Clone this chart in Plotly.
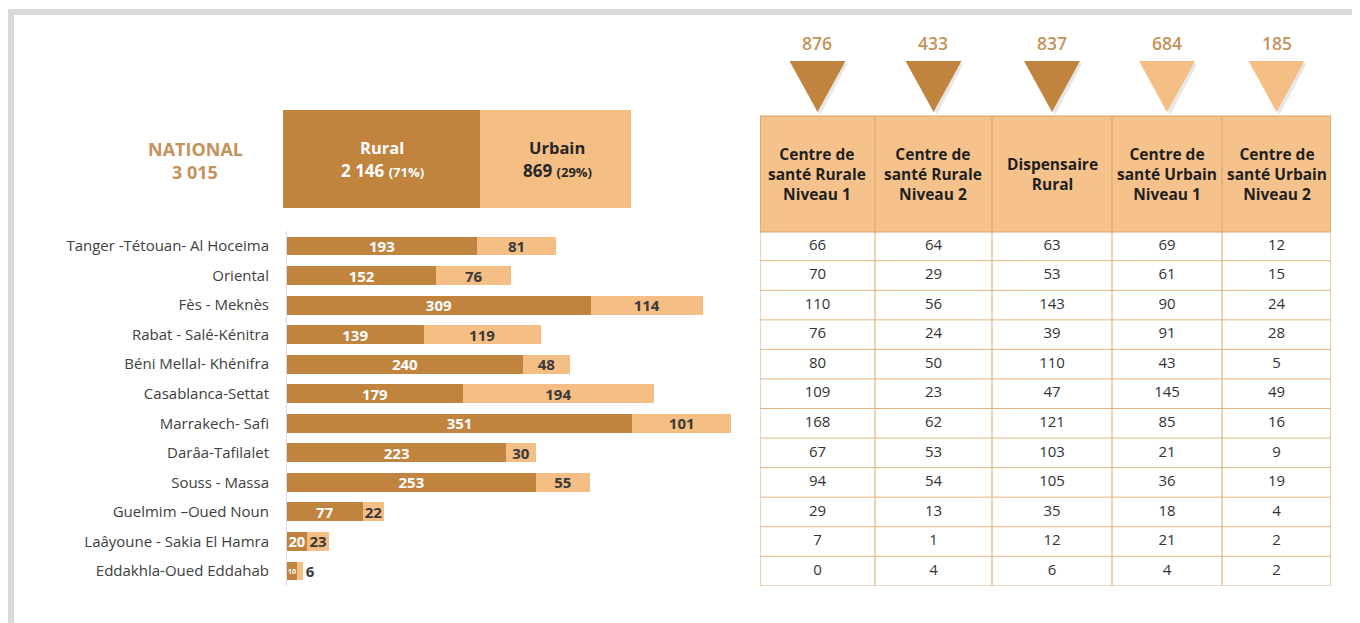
import plotly.graph_objects as go

# ---------------- data ----------------
regions = ["Tanger -Tétouan- Al Hoceima", "Oriental", "Fès - Meknès", "Rabat - Salé-Kénitra",
           "Béni Mellal- Khénifra", "Casablanca-Settat", "Marrakech- Safi", "Darâa-Tafilalet",
           "Souss - Massa", "Guelmim –Oued Noun", "Laâyoune - Sakia El Hamra", "Eddakhla-Oued Eddahab"]
rural = [193, 152, 309, 139, 240, 179, 351, 223, 253, 77, 20, 10]
urbain = [81, 76, 114, 119, 48, 194, 101, 30, 55, 22, 23, 6]

col_headers = ["Centre de<br>santé Rurale<br>Niveau 1", "Centre de<br>santé Rurale<br>Niveau 2",
               "Dispensaire<br>Rural", "Centre de<br>santé Urbain<br>Niveau 1",
               "Centre de<br>santé Urbain<br>Niveau 2"]
csr1 = [66, 70, 110, 76, 80, 109, 168, 67, 94, 29, 7, 0]
csr2 = [64, 29, 56, 24, 50, 23, 62, 53, 54, 13, 1, 4]
disp = [63, 53, 143, 39, 110, 47, 121, 103, 105, 35, 12, 6]
csu1 = [69, 61, 90, 91, 43, 145, 85, 21, 36, 18, 21, 4]
csu2 = [12, 15, 24, 28, 5, 49, 16, 9, 19, 4, 2, 2]
columns = [csr1, csr2, disp, csu1, csu2]
col_is_rural = [True, True, True, False, False]

# ---------------- style ----------------
OFF = 8                      # page body margin
W, H = 1360 - OFF, 623 - OFF
RURAL = "#c0843f"
URBAN = "#f4be85"
HEAD = "#f6c28b"
TAN_TXT = "#c4925a"
GRID = "#e2b482"
FONT = "'Open Sans', Lato, sans-serif"
col_widths = [115, 117, 120, 110, 109]
SCALE = 0.983                # px per unit on the bar axis
LABEL_SIZE = 15


def X(px):
    return (px - OFF) / W


def Y(py):
    return 1 - (py - OFF) / H


def fmt(n):
    return f"{n:,}".replace(",", " ")


# label size shrinks only when the bar is too narrow for it
rural_sizes = [min(LABEL_SIZE, v * SCALE * 0.75) for v in rural]

fig = go.Figure()

fig.add_trace(go.Bar(
    y=regions, x=rural, orientation="h", name="Rural", marker=dict(color=RURAL, line_width=0),
    text=rural, textposition="inside", insidetextanchor="middle", textangle=0,
    constraintext="none",
    textfont=dict(family=FONT, size=rural_sizes, color="white", weight="bold"),
    xaxis="x", yaxis="y", hoverinfo="skip"))
fig.add_trace(go.Bar(
    y=regions, x=urbain, orientation="h", name="Urbain", marker=dict(color=URBAN, line_width=0),
    text=urbain, textposition="auto", insidetextanchor="middle", textangle=0,
    constraintext="none",
    insidetextfont=dict(family=FONT, size=LABEL_SIZE, color="#3a3a3a", weight="bold"),
    outsidetextfont=dict(family=FONT, size=LABEL_SIZE, color="#3a3a3a", weight="bold"),
    xaxis="x", yaxis="y", hoverinfo="skip", cliponaxis=False))

# table body on x2 / y
edges = [0]
for w in col_widths:
    edges.append(edges[-1] + w)
centers = [(edges[i] + edges[i + 1]) / 2 for i in range(5)]

for i, col in enumerate(columns):
    fig.add_trace(go.Scatter(
        x=[centers[i]] * len(regions), y=regions, mode="text", text=[str(v) for v in col],
        textfont=dict(family=FONT, size=15, color="#333333"),
        xaxis="x2", yaxis="y", hoverinfo="skip", showlegend=False))

shapes = []
# frame
shapes.append(dict(type="rect", xref="paper", yref="paper", x0=X(11), x1=X(1380), y0=Y(12), y1=Y(650),
                   line=dict(color="#d9d9d9", width=6), fillcolor="rgba(0,0,0,0)", layer="below"))

# national boxes
shapes.append(dict(type="rect", xref="paper", yref="paper", x0=X(283), x1=X(480), y0=Y(208), y1=Y(110),
                   fillcolor=RURAL, line_width=0))
shapes.append(dict(type="rect", xref="paper", yref="paper", x0=X(480), x1=X(631), y0=Y(208), y1=Y(110),
                   fillcolor=URBAN, line_width=0))

# table header
shapes.append(dict(type="rect", xref="x2", yref="paper", x0=edges[0], x1=edges[-1], y0=Y(232), y1=Y(116),
                   fillcolor=HEAD, line=dict(color="#d7a46c", width=1)))
n = len(regions)
for k in range(n + 1):
    shapes.append(dict(type="line", xref="x2", yref="y", x0=edges[0], x1=edges[-1], y0=k - 0.5, y1=k - 0.5,
                       line=dict(color=GRID, width=1)))
for e in edges:
    shapes.append(dict(type="line", xref="x2", yref="paper", x0=e, x1=e, y0=Y(116), y1=Y(232),
                       line=dict(color="#d7a46c", width=1)))
    shapes.append(dict(type="line", xref="x2", yref="y", x0=e, x1=e, y0=-0.5, y1=n - 0.5,
                       line=dict(color=GRID, width=1.2)))

# triangles
for i, c in enumerate(centers):
    col = RURAL if col_is_rural[i] else URBAN
    shapes.append(dict(type="path", xref="x2", yref="paper",
                       path=f"M {c-26},{Y(64)} L {c+30},{Y(64)} L {c+3},{Y(115)} Z",
                       fillcolor="rgba(120,120,120,0.18)", line_width=0))
    shapes.append(dict(type="path", xref="x2", yref="paper",
                       path=f"M {c-28},{Y(61)} L {c+28},{Y(61)} L {c},{Y(112)} Z",
                       fillcolor=col, line_width=0))

annotations = []
tot_r, tot_u = sum(rural), sum(urbain)
tot = tot_r + tot_u
annotations += [
    dict(x=X(195), y=Y(149), text="<b>NATIONAL</b>", font=dict(family=FONT, size=18, color=TAN_TXT)),
    dict(x=X(195), y=Y(172), text=f"<b>{fmt(tot)}</b>", font=dict(family=FONT, size=18, color=TAN_TXT)),
    dict(x=X(382), y=Y(147), text="<b>Rural</b>", font=dict(family=FONT, size=16.5, color="white")),
    dict(x=X(382), y=Y(171),
         text=f"<b>{fmt(tot_r)} <span style='font-size:13px'>({round(100*tot_r/tot)}%)</span></b>",
         font=dict(family=FONT, size=17, color="white")),
    dict(x=X(557), y=Y(147), text="<b>Urbain</b>", font=dict(family=FONT, size=16.5, color="#262626")),
    dict(x=X(557), y=Y(171),
         text=f"<b>{fmt(tot_u)} <span style='font-size:13px'>({round(100*tot_u/tot)}%)</span></b>",
         font=dict(family=FONT, size=17, color="#262626")),
]
for a in annotations:
    a.update(xref="paper", yref="paper", showarrow=False, xanchor="center", yanchor="middle")

for i, c in enumerate(centers):
    annotations.append(dict(x=c, xref="x2", y=Y(174), yref="paper", text=f"<b>{col_headers[i]}</b>",
                            showarrow=False, font=dict(family=FONT, size=15.5, color="#1f1f1f"),
                            xanchor="center", yanchor="middle", align="center"))
    annotations.append(dict(x=c, xref="x2", y=Y(43), yref="paper", text=str(sum(columns[i])),
                            showarrow=False, font=dict(family=FONT, size=17.5, color=TAN_TXT, weight=600),
                            xanchor="center", yanchor="middle"))

fig.update_layout(
    width=W, height=H, margin=dict(l=0, r=0, t=0, b=0),
    paper_bgcolor="white", plot_bgcolor="rgba(0,0,0,0)",
    barmode="stack", bargap=0.36, showlegend=False,
    xaxis=dict(domain=[X(287), X(737)], range=[0, 450 / SCALE], visible=False, fixedrange=True),
    yaxis=dict(domain=[Y(585.8), Y(231.2)], type="category", categoryarray=regions,
               range=[n - 0.5, -0.5], showline=True, linecolor="#d6dbe6", linewidth=1,
               showgrid=False, ticks="", ticklabelstandoff=14,
               tickfont=dict(family=FONT, size=15, color="#404040"), anchor="x"),
    xaxis2=dict(domain=[X(760), X(1331)], range=[0, edges[-1]], visible=False, anchor="free"),
    shapes=shapes, annotations=annotations,
    font=dict(family=FONT),
)

fig.write_html("out.html")
